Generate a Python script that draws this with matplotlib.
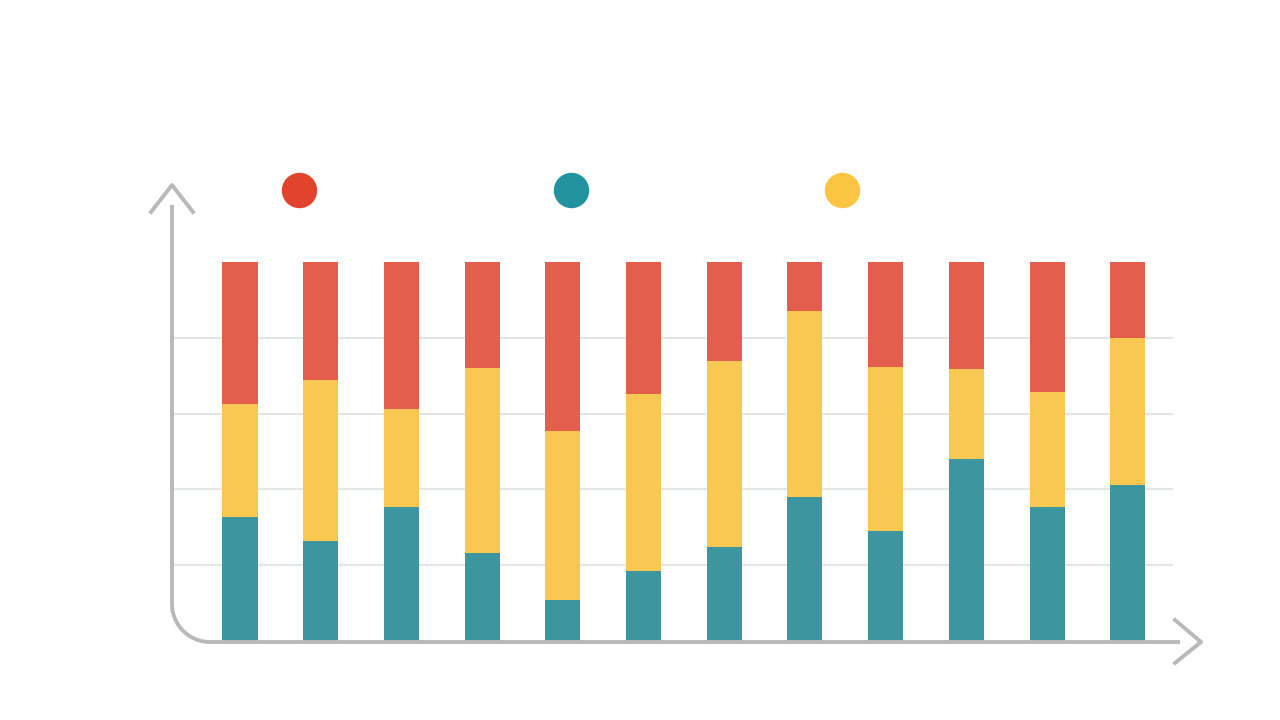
import numpy as np
import matplotlib
matplotlib.use("Agg")
import matplotlib.pyplot as plt
from matplotlib.lines import Line2D

# percent shares per bar (bottom -> top)
teal = [32.7, 26.4, 35.4, 23.2, 10.8, 18.5, 24.8, 38.0, 29.0, 48.0, 35.4, 41.2]
yellow = [29.8, 42.5, 25.8, 48.8, 44.6, 46.7, 49.1, 49.1, 43.3, 23.8, 30.3, 38.7]
red = [37.5, 31.1, 38.8, 28.0, 44.6, 34.8, 26.1, 12.9, 27.7, 28.2, 34.3, 20.1]
legend_colors = ["#e2432c", "#21929e", "#fbc443"]

W, H = 1280, 720
fig = plt.figure(figsize=(12.8, 7.2), dpi=100)
ax = fig.add_axes([172 / W, (H - 641) / H, (1173 - 172) / W, (641 - 262) / H])

x = np.arange(len(teal))
teal = np.array(teal)
yellow = np.array(yellow)
red = np.array(red)
bw = 0.434
ax.bar(x, teal, width=bw, color="#3d959e", zorder=3)
ax.bar(x, yellow, width=bw, bottom=teal, color="#f9c853", zorder=3)
ax.bar(x, red, width=bw, bottom=teal + yellow, color="#e35e4c", zorder=3)

for g in [20, 40, 60, 80]:
    ax.axhline(g, color="#e3e6e6", lw=1.5, zorder=1)

ax.set_xlim(-0.8426, 11.561)
ax.set_ylim(0, 100)
ax.axis("off")


def px(xs, ys):
    return [xv / W for xv in xs], [(H - yv) / H for yv in ys]


gray = "#b9b9b9"
lw = 2.8
# y axis with rounded corner into x axis
r = 38
t = np.linspace(np.pi, np.pi / 2, 30)
cx, cy = 172 + r, 642 - r
arc_x = cx + r * np.cos(t)
arc_y = cy + r * np.sin(t)
xs = [172] + list(arc_x) + [1180]
ys = [205] + list(arc_y) + [642]
fig.add_artist(Line2D(*px(xs, ys), color=gray, lw=lw, transform=fig.transFigure,
                      solid_capstyle="butt"))
# arrow heads
fig.add_artist(Line2D(*px([151, 172, 193], [212, 185, 212]), color=gray, lw=lw,
                      transform=fig.transFigure))
fig.add_artist(Line2D(*px([1175, 1201, 1175], [620, 642, 663]), color=gray, lw=lw,
                      transform=fig.transFigure))

# legend dots
for cxp, c in zip([299, 571, 842], legend_colors):
    fig.add_artist(Line2D(*px([cxp], [190]), marker="o", markersize=25.5, color=c,
                          markeredgewidth=0, transform=fig.transFigure))

fig.savefig("out.png", dpi=100, facecolor="white")
